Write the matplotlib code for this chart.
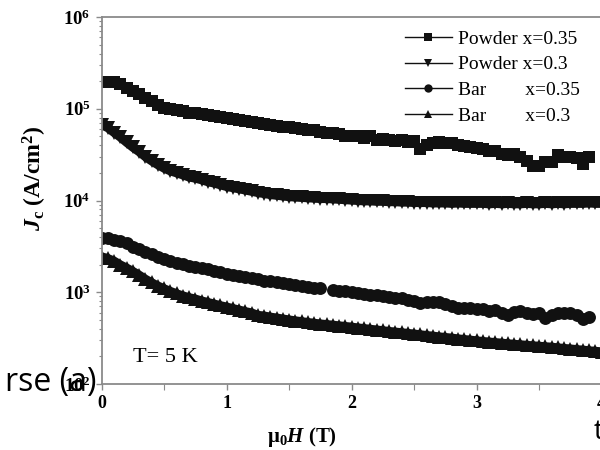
import numpy as np
import matplotlib
matplotlib.use("Agg")
import matplotlib.pyplot as plt
from matplotlib.lines import Line2D
from matplotlib.ticker import LogLocator, FixedLocator, NullFormatter

plt.rcParams['font.family'] = ['Liberation Serif', 'DejaVu Serif']
plt.rcParams['mathtext.fontset'] = 'custom'
plt.rcParams['mathtext.rm'] = 'Liberation Serif'
plt.rcParams['mathtext.it'] = 'Liberation Serif:italic'
plt.rcParams['mathtext.bf'] = 'Liberation Serif:bold'
plt.rcParams['mathtext.bfit'] = 'Liberation Serif:bold:italic'

# field values (T)
field = [0.00, 0.05, 0.10, 0.15, 0.20, 0.25, 0.30, 0.35, 0.40, 0.45,
         0.50, 0.55, 0.60, 0.65, 0.70, 0.75, 0.80, 0.85, 0.90, 0.95,
         1.00, 1.05, 1.10, 1.15, 1.20, 1.25, 1.30, 1.35, 1.40, 1.45,
         1.50, 1.55, 1.60, 1.65, 1.70, 1.75, 1.80, 1.85, 1.90, 1.95,
         2.00, 2.05, 2.10, 2.15, 2.20, 2.25, 2.30, 2.35, 2.40, 2.45,
         2.50, 2.55, 2.60, 2.65, 2.70, 2.75, 2.80, 2.85, 2.90, 2.95,
         3.00, 3.05, 3.10, 3.15, 3.20, 3.25, 3.30, 3.35, 3.40, 3.45,
         3.50, 3.55, 3.60, 3.65, 3.70, 3.75, 3.80, 3.85, 3.90, 3.95,
         4.00]

# Powder x=0.35 (squares)
powder_035 = [1.97e5, 1.97e5, 1.95e5, 1.85e5, 1.70e5, 1.55e5, 1.45e5, 1.32e5, 1.20e5, 1.10e5,
              1.03e5, 1.00e5, 9.7e4, 9.4e4, 9.1e4, 8.9e4, 8.7e4, 8.5e4, 8.3e4, 8.1e4,
              7.9e4, 7.7e4, 7.5e4, 7.3e4, 7.1e4, 7.0e4, 6.8e4, 6.7e4, 6.5e4, 6.4e4,
              6.3e4, 6.2e4, 6.0e4, 5.9e4, 5.8e4, 5.6e4, 5.5e4, 5.4e4, 5.3e4, 5.1e4,
              5.1e4, 5.0e4, 4.8e4, 5.0e4, 4.6e4, 4.7e4, 4.6e4, 4.5e4, 4.6e4, 4.3e4,
              4.4e4, 3.6e4, 4.0e4, 4.2e4, 4.3e4, 4.2e4, 4.2e4, 4.0e4, 3.9e4, 3.8e4,
              3.7e4, 3.6e4, 3.5e4, 3.5e4, 3.2e4, 3.1e4, 3.2e4, 3.0e4, 2.7e4, 2.35e4,
              2.4e4, 2.6e4, 2.6e4, 3.1e4, 3.0e4, 3.0e4, 2.9e4, 2.5e4, 3.0e4]

# Powder x=0.3 (down triangles)
powder_03 = [6.7e4, 6.2e4, 5.5e4, 4.9e4, 4.3e4, 3.8e4, 3.4e4, 3.0e4, 2.7e4, 2.45e4,
             2.25e4, 2.1e4, 2.0e4, 1.9e4, 1.8e4, 1.75e4, 1.68e4, 1.6e4, 1.55e4, 1.48e4,
             1.42e4, 1.38e4, 1.34e4, 1.30e4, 1.26e4, 1.22e4, 1.19e4, 1.16e4, 1.14e4, 1.12e4,
             1.10e4, 1.09e4, 1.08e4, 1.07e4, 1.06e4, 1.05e4, 1.05e4, 1.04e4, 1.03e4, 1.02e4,
             1.01e4, 1.00e4, 9.9e3, 9.9e3, 9.8e3, 9.8e3, 9.7e3, 9.7e3, 9.6e3, 9.6e3,
             9.5e3, 9.5e3, 9.5e3, 9.4e3, 9.4e3, 9.4e3, 9.3e3, 9.4e3, 9.3e3, 9.3e3,
             9.3e3, 9.3e3, 9.2e3, 9.3e3, 9.2e3, 9.3e3, 9.2e3, 9.2e3, 9.3e3, 9.2e3,
             9.2e3, 9.3e3, 9.2e3, 9.3e3, 9.2e3, 9.3e3, 9.3e3, 9.3e3, 9.4e3, 9.3e3,
             9.3e3]

# Bar x=0.35 (circles); nan marks the small gap in the data
bar_035 = [3.9e3, 3.9e3, 3.75e3, 3.6e3, 3.4e3, 3.15e3, 2.95e3, 2.75e3, 2.6e3, 2.45e3,
           2.3e3, 2.2e3, 2.1e3, 2.02e3, 1.95e3, 1.9e3, 1.83e3, 1.77e3, 1.72e3, 1.66e3,
           1.6e3, 1.56e3, 1.52e3, 1.47e3, 1.42e3, 1.38e3, 1.34e3, 1.31e3, 1.28e3, 1.25e3,
           1.22e3, 1.19e3, 1.16e3, 1.14e3, 1.12e3, 1.10e3, float('nan'), 1.06e3, 1.04e3, 1.02e3,
           1.00e3, 980, 960, 940, 930, 900, 880, 870, 860, 830,
           800, 770, 790, 780, 790, 740, 700, 680, 670, 670,
           660, 650, 630, 640, 600, 570, 610, 620, 600, 580,
           600, 530, 560, 590, 600, 590, 560, 510, 540]

# Bar x=0.3 (up triangles)
bar_03 = [2.45e3, 2.35e3, 2.2e3, 2.0e3, 1.85e3, 1.7e3, 1.55e3, 1.4e3, 1.28e3, 1.18e3,
          1.10e3, 1.03e3, 970, 920, 880, 850, 810, 780, 750, 720,
          695, 670, 645, 620, 600, 565, 555, 540, 528, 515,
          503, 492, 482, 472, 463, 455, 448, 441, 434, 427,
          420, 412, 405, 398, 391, 384, 377, 371, 365, 359,
          353, 347, 340, 335, 329, 324, 319, 313, 308, 303,
          298, 293, 289, 285, 281, 277, 273, 270, 266, 263,
          260, 257, 254, 250, 246, 243, 239, 236, 232, 229,
          226]

labels = ['Powder x=0.35', 'Powder x=0.3', 'Bar        x=0.35', 'Bar        x=0.3']
markers = ['s', 'v', 'o', '^']
msizes = [8.0, 9.5, 9.3, 9.5]
bandw = [0, 6.5, 0, 6.0]
series = [powder_035, powder_03, bar_035, bar_03]
ink = '#111111'

fig = plt.figure(figsize=(6, 4.5), dpi=100)
W, H = 600.0, 450.0
x0px, x1px = 101.7, 101.7 + 4.3 * 125.0
ytop, ybot = 17.0, 384.0
ax = fig.add_axes([x0px / W, 1 - ybot / H, (x1px - x0px) / W, (ybot - ytop) / H])

handles = []
for vals, mk, ms, bw, lab in zip(series, markers, msizes, bandw, labels):
    xs = field[:len(vals)]
    if bw > 0:
        ax.plot(xs, vals, ls='-', lw=bw, color=ink, solid_capstyle='butt')
    ax.plot(xs, vals, ls='none', color=ink, marker=mk, markersize=ms, markeredgewidth=0)
    handles.append(Line2D([], [], ls='-', lw=1.0, color=ink, marker=mk,
                          markersize=6.0, markeredgewidth=0, label=lab))

ax.set_yscale('log')
ax.set_ylim(1e2, 1e6)
ax.set_xlim(0, 4.3)

ax.xaxis.set_major_locator(FixedLocator([0, 1, 2, 3, 4]))
ax.xaxis.set_minor_locator(FixedLocator([0.5, 1.5, 2.5, 3.5]))
ax.yaxis.set_major_locator(FixedLocator([1e2, 1e3, 1e4, 1e5, 1e6]))
ax.yaxis.set_minor_locator(LogLocator(base=10, subs=np.arange(2, 10), numticks=20))
ax.yaxis.set_minor_formatter(NullFormatter())
ax.set_xticklabels(['0', '1', '2', '3', '4'], fontweight='bold', fontsize=13)
ax.set_yticklabels([r'$\mathbf{10^{2}}$', r'$\mathbf{10^{3}}$', r'$\mathbf{10^{4}}$',
                    r'$\mathbf{10^{5}}$', r'$\mathbf{10^{6}}$'], fontsize=13.5)

for s in ax.spines.values():
    s.set_color('#8a8a8a')
    s.set_linewidth(1.3)
ax.tick_params(axis='both', which='major', direction='out', length=4, width=1.0,
               color='#8a8a8a', pad=4)
ax.tick_params(axis='both', which='minor', direction='out', length=2.5, width=0.8,
               color='#8a8a8a')
ax.tick_params(axis='x', which='minor', length=4)

fig.text(35 / W, 1 - 178 / H, r'$\mathbfit{J}_{\mathbf{c}}\ \mathbf{(A/cm^{2})}$',
         rotation=90, ha='center', va='center', fontsize=17)
fig.text(302 / W, 1 - 437 / H, r'$\mathbf{\mu}_{\mathbf{0}}\mathbfit{H}\ \mathbf{(T)}$',
         ha='center', va='center', fontsize=15)
fig.text(133 / W, 1 - 357 / H, 'T= 5 K', ha='left', va='center', fontsize=16)

leg = ax.legend(handles=handles, loc='upper left', bbox_to_anchor=(405 / W, 1 - 30 / H),
                bbox_transform=fig.transFigure, frameon=False, fontsize=14,
                borderaxespad=0, borderpad=0, handlelength=2.4, handletextpad=0.3,
                labelspacing=0.42)

fig.text(97 / W, 1 - 383 / H, 'rse (a)', ha='right', va='center', fontsize=23,
         family=['Open Sans', 'DejaVu Sans'], color='black')
fig.text(594 / W, 1 - 432 / H, 't', ha='left', va='center', fontsize=20,
         family=['Open Sans', 'DejaVu Sans'], color='black')

fig.savefig('out.png', dpi=100)
